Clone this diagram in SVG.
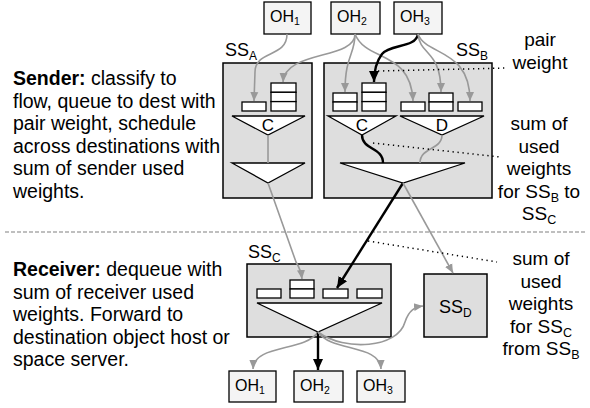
<svg xmlns="http://www.w3.org/2000/svg" width="590" height="408" viewBox="0 0 590 408">
<style>
.box{fill:#dedede;stroke:#000;stroke-width:1.5}
.oh{fill:#f4f4f4;stroke:#000;stroke-width:1.3}
.q{fill:#fff;stroke:#000;stroke-width:1.3}
.tri{fill:#fff;stroke:#000;stroke-width:1.3}
.g{fill:none;stroke:#999;stroke-width:1.6}
.b{fill:none;stroke:#000;stroke-width:2.4}
.dot{fill:none;stroke:#000;stroke-width:1.5;stroke-dasharray:1.3 3.7}
text{font-family:"Liberation Sans",Arial,sans-serif;fill:#000}
.lt{font-size:19.5px}
.rt{font-size:19px;text-anchor:middle}
.ohl{font-size:16px}
.ss{font-size:18px}
.tl{font-size:17px;text-anchor:middle}
</style>
<defs>
<marker id="ag" markerUnits="userSpaceOnUse" markerWidth="10" markerHeight="10" viewBox="0 0 10 10" refX="9" refY="5" orient="auto"><path d="M0,1 L9,5 L0,9 z" fill="#999"/></marker>
<marker id="ab" markerUnits="userSpaceOnUse" markerWidth="12" markerHeight="12" viewBox="0 0 12 12" refX="11" refY="6" orient="auto"><path d="M0,1 L11,6 L0,11 z" fill="#000"/></marker>
</defs>

<line x1="5" y1="232" x2="585" y2="232" stroke="#aaa" stroke-width="1.3" stroke-dasharray="4 2"/>

<g id="oh1-top"><rect class="oh" x="264" y="2" width="47" height="32"/><text class="ohl" x="270" y="22">OH<tspan font-size="10.5" dy="3">1</tspan></text></g>
<g id="oh2-top"><rect class="oh" x="331" y="2" width="49" height="32"/><text class="ohl" x="337" y="22">OH<tspan font-size="10.5" dy="3">2</tspan></text></g>
<g id="oh3-top"><rect class="oh" x="394" y="2" width="48" height="32"/><text class="ohl" x="400" y="22">OH<tspan font-size="10.5" dy="3">3</tspan></text></g>

<g id="ssA">
<rect class="box" x="223" y="63" width="89" height="135"/>
<text class="ss" x="225" y="56">SS<tspan font-size="12" dy="4">A</tspan></text>
<rect class="q" x="242" y="102" width="24" height="9"/>
<rect class="q" x="271" y="83" width="25" height="9.3"/><rect class="q" x="271" y="92.3" width="25" height="9.3"/><rect class="q" x="271" y="101.6" width="25" height="9.4"/>
<polygon class="tri" points="232,116 305,116 268,135"/>
<text class="tl" x="268" y="131">C</text>
<polygon class="tri" points="232,163 305,163 268,183"/>
</g>

<g id="ssB">
<rect class="box" x="324" y="63" width="168" height="135"/>
<text class="ss" x="456" y="56">SS<tspan font-size="12" dy="4">B</tspan></text>
<rect class="q" x="333" y="93" width="24" height="9"/><rect class="q" x="333" y="102" width="24" height="9"/>
<rect class="q" x="362" y="83" width="24" height="9.3"/><rect class="q" x="362" y="92.3" width="24" height="9.3"/><rect class="q" x="362" y="101.6" width="24" height="9.4"/>
<rect class="q" x="401" y="102" width="24" height="9"/>
<rect class="q" x="429" y="93" width="24" height="9"/><rect class="q" x="429" y="102" width="24" height="9"/>
<rect class="q" x="458" y="102" width="24" height="9"/>
<polygon class="tri" points="328,116 396,116 362,135"/>
<text class="tl" x="362" y="131">C</text>
<polygon class="tri" points="400,116 484,116 442,135"/>
<text class="tl" x="442" y="131">D</text>
<polygon class="tri" points="340,163 465,163 403,183"/>
</g>

<g id="ssC">
<rect class="box" x="247" y="264" width="144" height="73"/>
<text class="ss" x="248" y="258">SS<tspan font-size="12" dy="4">C</tspan></text>
<rect class="q" x="257" y="289" width="24" height="9"/>
<rect class="q" x="290" y="280" width="24" height="9"/><rect class="q" x="290" y="289" width="24" height="9"/>
<rect class="q" x="323" y="289" width="25" height="9"/>
<rect class="q" x="357" y="289" width="25" height="9"/>
<polygon class="tri" points="257,303 382,303 318,332"/>
</g>

<g id="ssD">
<rect class="box" x="424" y="274" width="63" height="63"/>
<text class="ss" x="439" y="313">SS<tspan font-size="12" dy="4">D</tspan></text>
</g>

<g id="oh1-bot"><rect class="oh" x="229" y="371" width="47" height="31"/><text class="ohl" x="235" y="391">OH<tspan font-size="10.5" dy="3">1</tspan></text></g>
<g id="oh2-bot"><rect class="oh" x="294" y="371" width="49" height="31"/><text class="ohl" x="300" y="391">OH<tspan font-size="10.5" dy="3">2</tspan></text></g>
<g id="oh3-bot"><rect class="oh" x="357" y="371" width="48" height="31"/><text class="ohl" x="363" y="391">OH<tspan font-size="10.5" dy="3">3</tspan></text></g>

<g id="connectors">
<path class="g" d="M287,34 C287,58 255,50 255,72 L254,101" marker-end="url(#ag)"/>
<path class="g" d="M355,34 C355,60 285,50 283,82" marker-end="url(#ag)"/>
<path class="g" d="M355,34 C355,55 345,55 345,92" marker-end="url(#ag)"/>
<path class="g" d="M355,34 C366,62 411,50 413,101" marker-end="url(#ag)"/>
<path class="b" d="M418,34 C416,48 390,44 382,54 C376,62 374,70 374,82" marker-end="url(#ab)"/>
<path class="g" d="M418,34 C420,56 441,50 441,92" marker-end="url(#ag)"/>
<path class="g" d="M418,34 C426,56 470,48 470,101" marker-end="url(#ag)"/>
<line class="g" x1="268" y1="135" x2="268" y2="163"/>
<path class="g" d="M268,183 L296,262 Q301,270 302,279" marker-end="url(#ag)"/>
<path class="b" d="M362,135 C362,150 383,147 383,163" stroke-width="2"/>
<path class="g" d="M442,135 C442,150 420,147 420,163"/>
<path class="b" d="M403,183 L337,288" marker-end="url(#ab)"/>
<path class="g" d="M403,183 L453,273" marker-end="url(#ag)"/>
<path class="g" d="M318,332 C305,352 254,344 253,369" marker-end="url(#ag)"/>
<path class="b" d="M318,332 L318,370" marker-end="url(#ab)"/>
<path class="g" d="M318,332 C331,352 380,344 381,369" marker-end="url(#ag)"/>
<path class="g" d="M318,332 C345,352 398,348 405,322 C409,310 415,307 423,306" marker-end="url(#ag)"/>
<line class="dot" x1="378" y1="71" x2="508" y2="68"/>
<line class="dot" x1="373" y1="143" x2="500" y2="157"/>
<line class="dot" x1="368" y1="241" x2="497" y2="262"/>
</g>

<g id="sender-text">
<text class="lt" x="13" y="85"><tspan font-weight="bold">Sender:</tspan> classify to</text>
<text class="lt" x="13" y="107.5">flow, queue to dest with</text>
<text class="lt" x="13" y="130">pair weight, schedule</text>
<text class="lt" x="13" y="152.5">across destinations with</text>
<text class="lt" x="13" y="175">sum of sender used</text>
<text class="lt" x="13" y="197.5">weights.</text>
</g>
<g id="receiver-text">
<text class="lt" x="13" y="276"><tspan font-weight="bold">Receiver:</tspan> dequeue with</text>
<text class="lt" x="13" y="298.5">sum of receiver used</text>
<text class="lt" x="13" y="321">weights. Forward to</text>
<text class="lt" x="13" y="343.5">destination object host or</text>
<text class="lt" x="13" y="366">space server.</text>
</g>
<g id="pair-weight-note">
<text class="rt" x="540" y="46">pair</text>
<text class="rt" x="540" y="68.5">weight</text>
</g>
<g id="sender-sum-note">
<text class="rt" x="539" y="130">sum of</text>
<text class="rt" x="539" y="152.5">used</text>
<text class="rt" x="539" y="175">weights</text>
<text class="rt" x="539" y="197.5">for SS<tspan font-size="12.5" dy="4">B</tspan><tspan dy="-4"> to</tspan></text>
<text class="rt" x="539" y="220">SS<tspan font-size="12.5" dy="4">C</tspan></text>
</g>
<g id="receiver-sum-note">
<text class="rt" x="541" y="265">sum of</text>
<text class="rt" x="541" y="287.5">used</text>
<text class="rt" x="541" y="310">weights</text>
<text class="rt" x="541" y="332.5">for SS<tspan font-size="12.5" dy="4">C</tspan></text>
<text class="rt" x="541" y="355">from SS<tspan font-size="12.5" dy="4">B</tspan></text>
</g>
</svg>
